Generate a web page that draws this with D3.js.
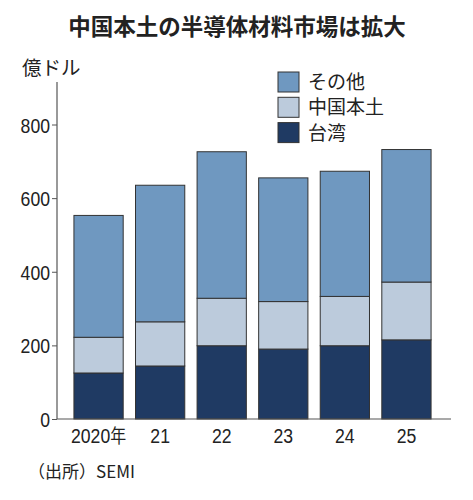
<!DOCTYPE html>
<html>
<head>
<meta charset="utf-8">
<script src="https://cdn.jsdelivr.net/npm/d3@7"></script>
<style>
  body { margin: 0; background: #fff; }
  text { font-family: "Noto Sans CJK JP", "Noto Sans", sans-serif; fill: #222; }
</style>
</head>
<body>
<div id="chart"></div>
<script>
// 中国本土の半導体材料市場 (億ドル)
const Years = ["2020年", "21", "22", "23", "24", "25"];
const Taiwan = [125, 144, 199, 190, 199, 215];
const China = [97, 120, 129, 129, 134, 157];
const Other = [331, 371, 398, 336, 340, 360];
const YTicks = [0, 200, 400, 600, 800];

const SeriesKeys = ["taiwan", "china", "other"];
const SeriesColors = { taiwan: "#1f3a63", china: "#bccbdc", other: "#6f98c0" };
const LegendData = [
    { label: "その他", key: "other" },
    { label: "中国本土", key: "china" },
    { label: "台湾", key: "taiwan" },
];

const NumFont = "'Liberation Sans Narrow', 'Liberation Sans', Arial, sans-serif";
const Squeeze = 0.84; // digits in the original are condensed

function createChart() {
    const width = 473, height = 500;

    const rows = Years.map((y, i) => ({ year: y, taiwan: Taiwan[i], china: China[i], other: Other[i] }));
    const stacked = d3.stack().keys(SeriesKeys)(rows);

    const x = d3.scaleBand().domain(Years).range([57, 448]).paddingInner(0.2).paddingOuter(0.275);
    const y = d3.scaleLinear().domain([0, 800]).range([419, 124.5]);

    const svg = d3.select("#chart").append("svg")
        .attr("width", width)
        .attr("height", height);

    svg.append("text")
        .attr("x", 237).attr("y", 35)
        .attr("text-anchor", "middle")
        .attr("font-size", 22.5)
        .attr("font-weight", "bold")
        .text("中国本土の半導体材料市場は拡大");

    svg.append("text")
        .attr("x", 22).attr("y", 75)
        .attr("font-size", 19.5)
        .text("億ドル");

    // bars
    svg.append("g").selectAll("g")
        .data(stacked).enter().append("g")
            .attr("fill", d => SeriesColors[d.key])
        .selectAll("rect")
        .data(d => d).enter().append("rect")
            .attr("x", d => x(d.data.year))
            .attr("width", x.bandwidth())
            .attr("y", d => y(d[1]))
            .attr("height", d => y(d[0]) - y(d[1]))
            .attr("stroke", "#333")
            .attr("stroke-width", 1);

    // y axis
    const yAxis = svg.append("g")
        .attr("transform", "translate(57,0)")
        .call(d3.axisLeft(y).tickValues(YTicks).tickSize(5).tickFormat(d3.format("d")));
    yAxis.select(".domain").remove();
    yAxis.selectAll(".tick line").attr("stroke", "#555");
    yAxis.selectAll(".tick text")
        .style("font-family", NumFont)
        .style("font-weight", "normal")
        .attr("font-size", 21)
        .attr("x", -7 / Squeeze)
        .attr("transform", `scale(${Squeeze},1)`)
        .attr("dy", "0.36em").attr("fill", "#2a2a2a");

    svg.append("line")
        .attr("x1", 57).attr("x2", 57)
        .attr("y1", 82).attr("y2", y(0))
        .attr("stroke", "#555").attr("stroke-width", 1.2);

    // x axis
    const xAxis = svg.append("g")
        .attr("transform", `translate(0,${y(0)})`)
        .call(d3.axisBottom(x).tickSize(0).tickPadding(9));
    xAxis.select(".domain").remove();
    xAxis.selectAll(".tick text")
        .style("font-family", NumFont)
        .style("font-weight", "normal")
        .attr("font-size", 21)
        .attr("transform", `scale(${Squeeze},1)`)
        .attr("dy", "0.71em").attr("fill", "#2a2a2a");
    xAxis.selectAll(".tick text")
        .filter(d => d === "2020年")
        .text("2020")
        .append("tspan")
            .style("font-family", "'Noto Sans CJK JP'")
            .attr("font-size", 19)
            .text("年");

    svg.append("line")
        .attr("x1", 57).attr("x2", 451)
        .attr("y1", y(0)).attr("y2", y(0))
        .attr("stroke", "#555").attr("stroke-width", 1.2);

    // legend
    const legend = svg.append("g").attr("transform", "translate(278,72)");
    const items = legend.selectAll("g")
        .data(LegendData).enter().append("g")
            .attr("transform", (d, i) => `translate(0,${i * 25.3})`);
    items.append("rect")
        .attr("width", 21).attr("height", 20)
        .attr("fill", d => SeriesColors[d.key])
        .attr("stroke", "#333");
    items.append("text")
        .attr("x", 30).attr("y", 17)
        .attr("font-size", 19)
        .text(d => d.label);

    svg.append("text")
        .attr("x", 28).attr("y", 478)
        .attr("font-size", 17)
        .text("（出所）SEMI");
}

createChart();
</script>
</body>
</html>
